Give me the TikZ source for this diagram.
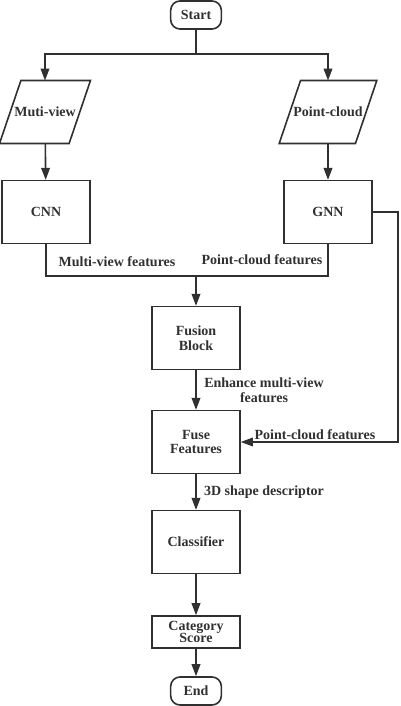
\documentclass[tikz,border=0pt]{standalone}
\usepackage{fontspec}
\setmainfont{Liberation Serif}
\usetikzlibrary{arrows.meta}
\definecolor{ink}{HTML}{303030}
\tikzset{
  base/.style={draw=ink, line width=1.2pt, text=ink, font=\fontsize{10.5}{11}\selectfont\bfseries, align=center},
  term/.style={base, rounded corners=7pt, minimum width=38pt, minimum height=21pt, inner sep=1pt},
  io/.style={base, draw=none, rectangle, minimum height=46pt, inner sep=0pt},
  proc/.style={base, rectangle, minimum width=66pt, minimum height=47pt},
  arr/.style={draw=ink, line width=1.2pt, -{Triangle[length=9pt,width=6.5pt]}},
  link/.style={draw=ink, line width=1.2pt},
  lbl/.style={text=ink, font=\fontsize{10.5}{11}\selectfont\bfseries, align=center, inner sep=1pt}
}
\begin{document}
\begin{tikzpicture}[x=0.75pt,y=-0.75pt]
\useasboundingbox (0,0) rectangle (400,706);
% nodes
\node[term] (start) at (196,15) {Start};
\node[io, minimum width=51pt] (mv) at (45,112) {Muti-view};
\node[io, minimum width=56pt] (pc) at (328,112) {Point-cloud};
\node[proc] (cnn) at (46,212) {CNN};
\node[proc] (gnn) at (328,212) {GNN};
\node[proc] (fusion) at (196,338) {Fusion\\Block};
\node[proc] (fuse) at (196,442) {Fuse\\Features};
\node[proc] (cls) at (196,542) {Classifier};
\node[proc, minimum height=24pt, inner sep=0pt] (score) at (196,632) {Category\\[-2pt]Score};
\node[term] (end) at (196,691) {End};
\coordinate (split) at (196,54);
\coordinate (merge) at (196,276);
\coordinate (rside) at (398,330);
% slanted input boxes
\foreach \n in {mv,pc}
  \draw[base] ([xshift=-8pt]\n.south west) -- ([xshift=8pt]\n.north west)
    -- ([xshift=8pt]\n.north east) -- ([xshift=-8pt]\n.south east) -- cycle;
% connectors
\draw[link] (start) -- (split);
\draw[arr] (split) -| (mv);
\draw[arr] (split) -| (pc);
\draw[arr] (mv) -- (cnn);
\draw[arr] (pc) -- (gnn);
\draw[link] (cnn) |- (merge);
\draw[link] (gnn) |- (merge);
\draw[arr] (merge) -- (fusion);
\draw[arr] (fusion) -- (fuse);
\draw[arr, line width=0.8pt] (gnn.east) -| (rside) |- (fuse.east);
\draw[arr] (fuse) -- (cls);
\draw[arr] (cls) -- (score);
\draw[arr] (score) -- (end);
% labels
\node[lbl] (lmv) at (117,262) {Multi-view features};
\node[lbl] (lpc) at (262,260) {Point-cloud features};
\node[lbl] (lenh) at (264,390) {Enhance multi-view\\features};
\node[lbl] (lpc2) at (315,435) {Point-cloud features};
\node[lbl] (ldesc) at (264,492) {3D shape descriptor};
\end{tikzpicture}
\end{document}
